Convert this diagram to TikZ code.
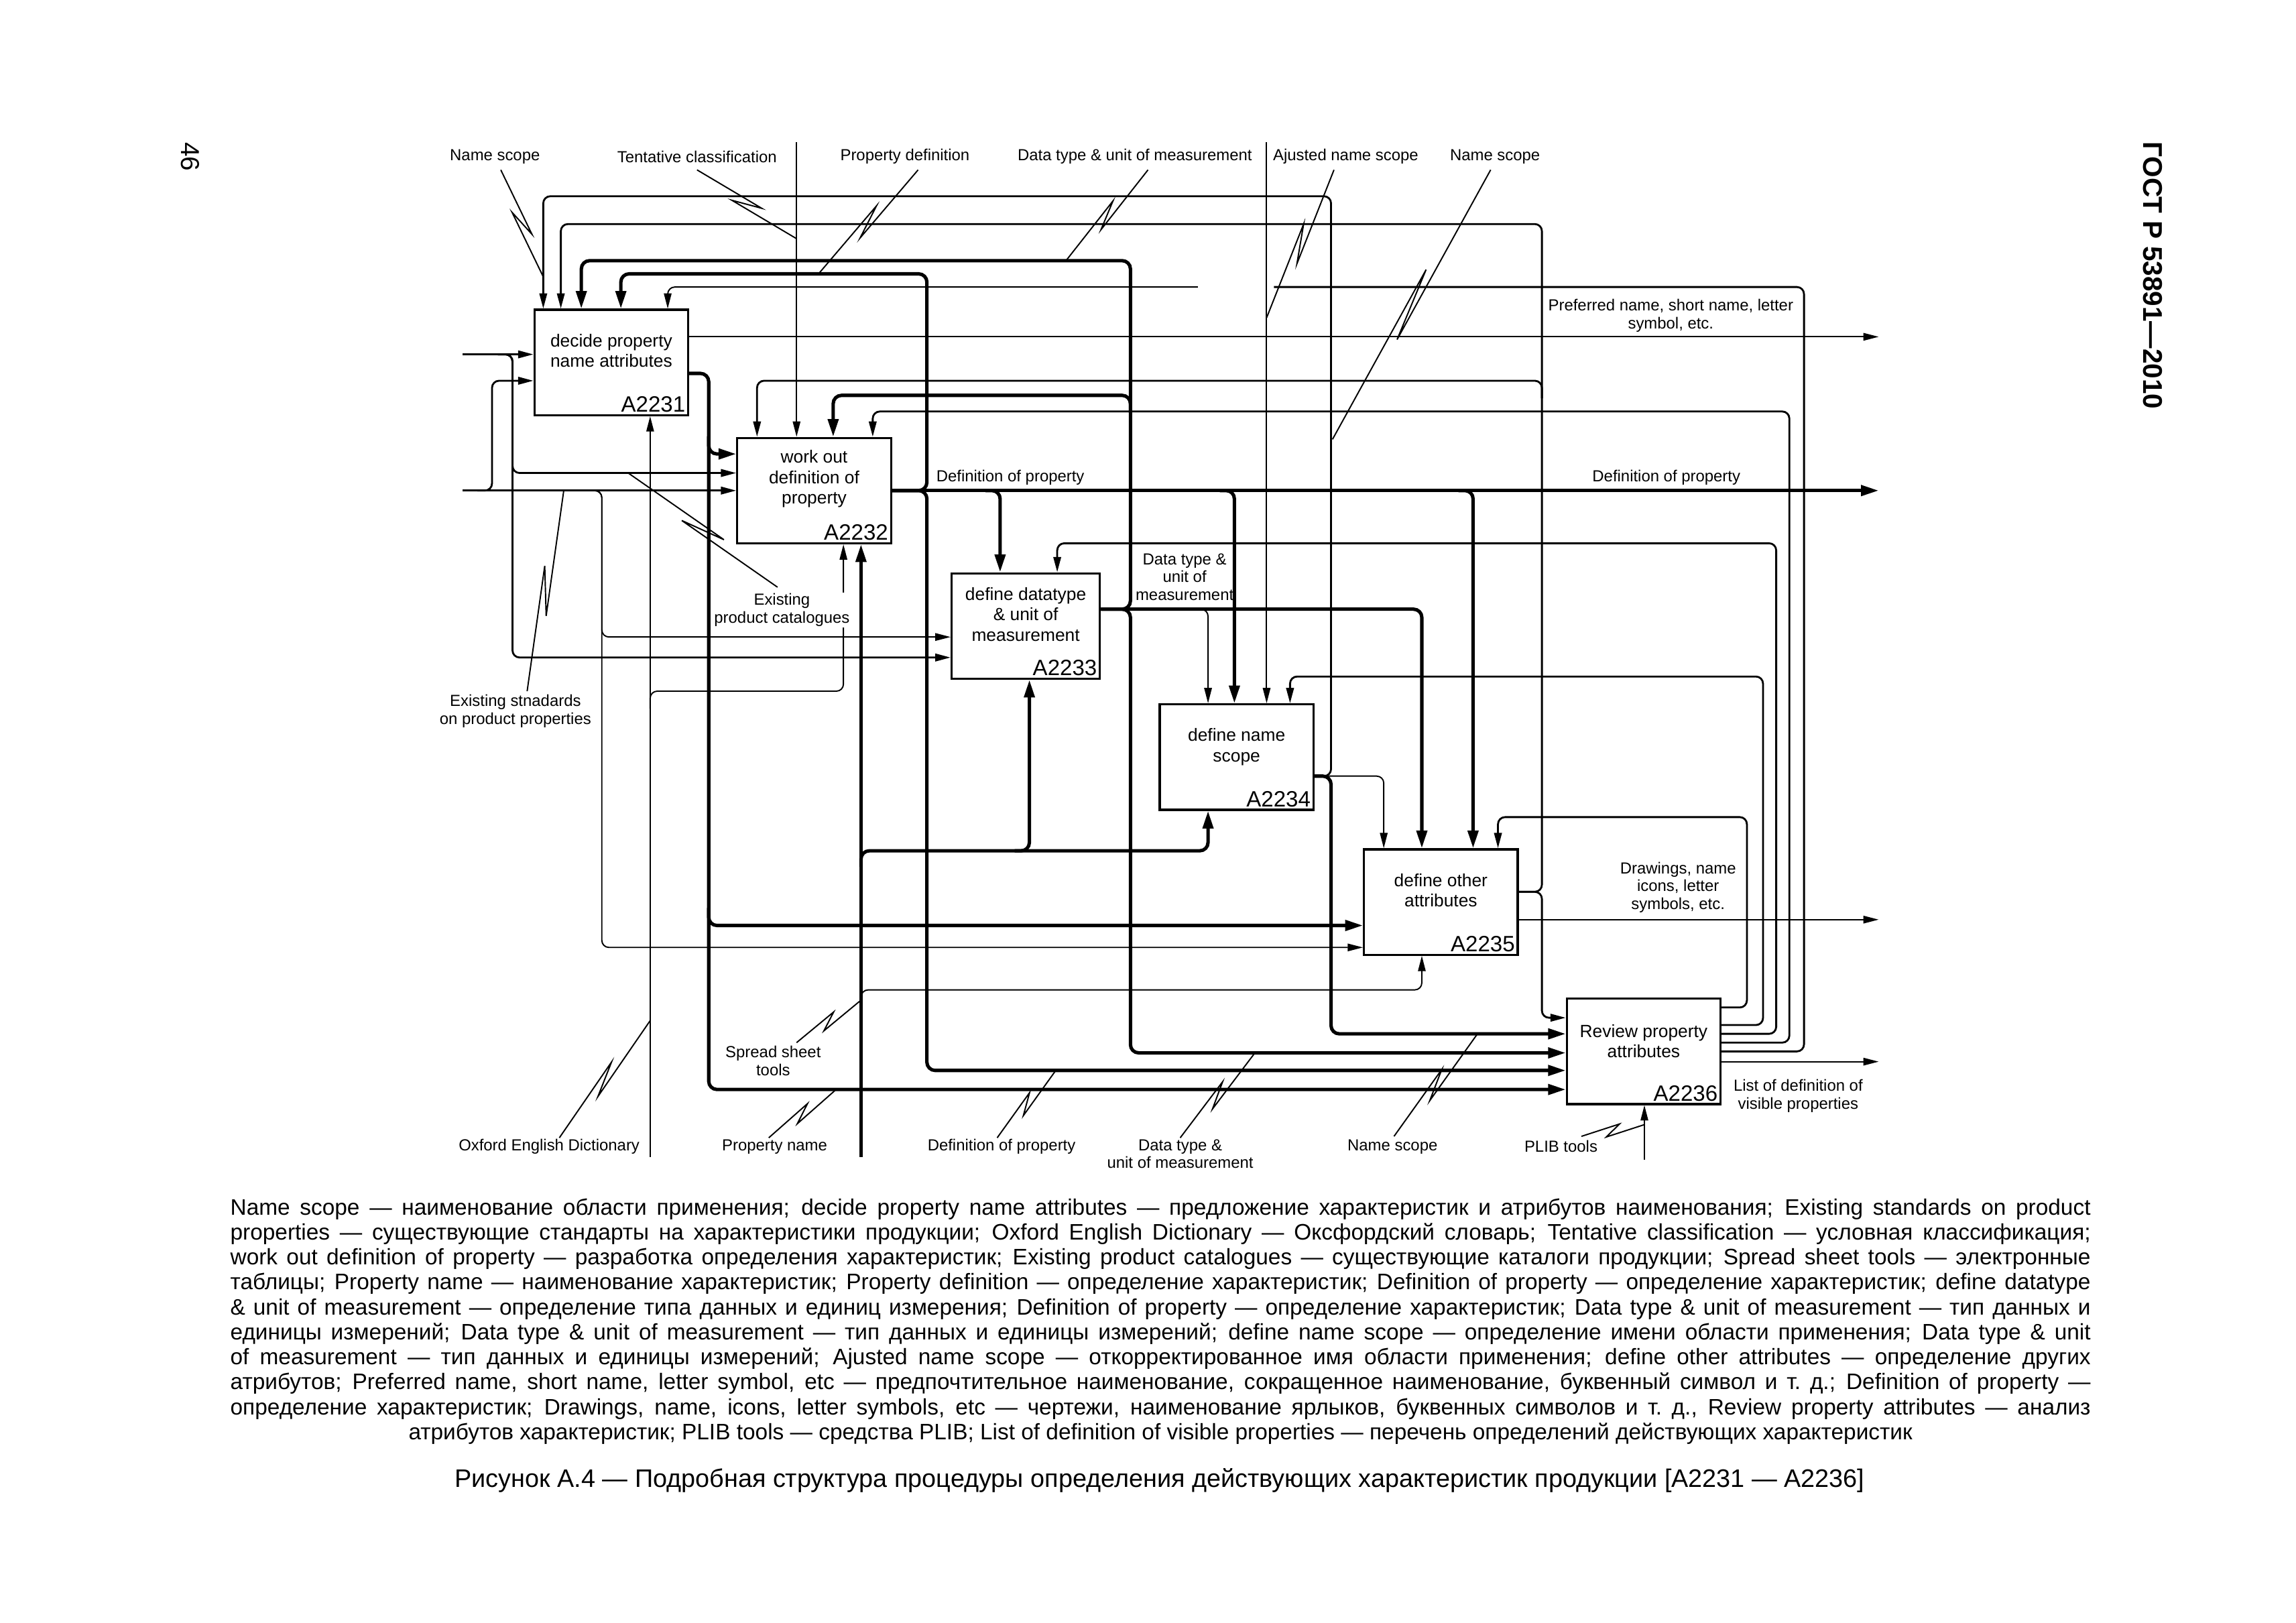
\documentclass[tikz,border=0pt]{standalone}
\usepackage{fontspec}
\setmainfont{Liberation Sans}
\usetikzlibrary{arrows.meta, calc}

% leader line with an IDEF0 squiggle
\newcommand{\squig}[2]{%
  \draw[line width=0.55pt] (#1) -- ($(#1)!0.62!(#2)!2.2pt!90:(#2)$) -- ($(#1)!0.38!(#2)!2.2pt!-90:(#2)$) -- (#2);}

\begin{document}
\begin{tikzpicture}[x=0.02184cm, y=-0.02184cm,
  fbox/.style={draw, line width=0.9pt, fill=white, minimum width=2.293cm, minimum height=1.572cm, inner sep=0pt},
  ftext/.style={font=\fontsize{7.5}{8.7}\selectfont, align=center, inner sep=0pt},
  fnum/.style={font=\fontsize{9.4}{10}\selectfont, anchor=south east, inner sep=1.5pt},
  lbl/.style={font=\fontsize{6.8}{7.6}\selectfont, align=center, inner sep=0.5pt},
  thin/.style={line width=0.55pt, rounded corners=3pt},
  med/.style={line width=0.8pt, rounded corners=3pt},
  thk/.style={line width=1.45pt, rounded corners=3.5pt},
  arr/.style={-{Triangle[length=6.5pt, width=3.2pt]}},
  tarr/.style={-{Triangle[length=7.5pt, width=4.4pt]}},
]
  \fill[white] (0,0) rectangle (1568,1108);
  \useasboundingbox (0,0) rectangle (1568,1108);

  % page header
  \node[font=\fontsize{11}{13}\selectfont, rotate=-90] (page) at (130,107) {46};
  \node[font=\bfseries\fontsize{11.5}{13}\selectfont, rotate=-90] (std) at (1470,188) {ГОСТ Р 53891—2010};

  % activity boxes
  \node[fbox] (b1) at (417.5,247.5) {};
  \node[fbox] (b2) at (556,335) {};
  \node[fbox, minimum width=2.21cm] (b3) at (700.5,427.5) {};
  \node[fbox] (b4) at (844.5,517) {};
  \node[fbox] (b5) at (984,616) {};
  \node[fbox] (b6) at (1122.5,718) {};

  % outputs of A2234
  \draw[med, arr] (b4.east |- 0,530) -- (909,530) -- (909,134) -- (371,134) -- (371,0 |- b1.north);
  \draw[thk, tarr] (b4.east |- 0,530) -- (909,530) -- (909,706) -- (b6.west |- 0,706);
  \draw[thin, arr] (903,530) -- (945,530) -- (945,0 |- b5.north);

  % outputs of A2235
  \draw[med, arr] (b5.east |- 0,609) -- (1053,609) -- (1053,153) -- (383,153) -- (383,0 |- b1.north);
  \draw[med, arr] (b5.east |- 0,609) -- (1053,609) -- (1053,695) -- (b6.west |- 0,695);
  \draw[med, arr] (1053,272) -- (1053,260) -- (517,260) -- (517,0 |- b2.north);
  \draw[thin, arr] (b5.east |- 0,628) -- (1283,628);

  % outputs of A2233
  \draw[thk, tarr] (b3.east |- 0,416) -- (772,416) -- (772,178) -- (397,178) -- (397,0 |- b1.north);
  \draw[thk, tarr] (b3.east |- 0,416) -- (772,416) -- (772,719) -- (b6.west |- 0,719);
  \draw[thk, tarr] (772,282) -- (772,270) -- (569,270) -- (569,0 |- b2.north);
  \draw[thk, tarr] (b3.east |- 0,416) -- (971,416) -- (971,0 |- b5.north);
  \draw[thin, arr] (812,416) -- (825,416) -- (825,0 |- b4.north);

  % outputs of A2232
  \draw[thk, tarr] (b2.east |- 0,335) -- (1283,335);
  \draw[thk, tarr] (b2.east |- 0,335) -- (633,335) -- (633,187) -- (424,187) -- (424,0 |- b1.north);
  \draw[thk, tarr] (b2.east |- 0,335) -- (633,335) -- (633,731) -- (b6.west |- 0,731);
  \draw[thk, tarr] (673,335) -- (683,335) -- (683,0 |- b3.north);
  \draw[thk, tarr] (833,335) -- (843,335) -- (843,0 |- b4.north);
  \draw[thk, tarr] (996,335) -- (1006,335) -- (1006,0 |- b5.north);

  % outputs of A2231
  \draw[thin, arr] (b1.east |- 0,230) -- (1283,230);
  \draw[thk, tarr] (b1.east |- 0,255) -- (484,255) -- (484,744) -- (b6.west |- 0,744);
  \draw[thk, tarr] (484,298) -- (484,310) -- (b2.west |- 0,310);
  \draw[thk, tarr] (484,620) -- (484,632) -- (b5.west |- 0,632);

  % outputs of A2236
  \draw[med, arr] (b6.east |- 0,688) -- (1193,688) -- (1193,558) -- (1023,558) -- (1023,0 |- b5.north);
  \draw[med, arr] (b6.east |- 0,700) -- (1204,700) -- (1204,462) -- (881,462) -- (881,0 |- b4.north);
  \draw[med, arr] (b6.east |- 0,706) -- (1213,706) -- (1213,371) -- (722,371) -- (722,0 |- b3.north);
  \draw[med, arr] (b6.east |- 0,712) -- (1222,712) -- (1222,281) -- (596,281) -- (596,0 |- b2.north);
  \coordinate (cut2) at (870,196);
  \draw[med] (b6.east |- 0,718) -- (1232,718) -- (1232,196) -- (cut2);
  \draw[thin, arr] (b6.east |- 0,725) -- (1283,725);

  % external controls
  \coordinate (cut1) at (818,196);
  \draw[thin, arr] (cut1) -- (456,196) -- (456,0 |- b1.north);
  \coordinate (top1) at (544,97);
  \draw[thin, arr] (top1) -- (544,0 |- b2.north);
  \coordinate (top2) at (865,97);
  \draw[thin, arr] (top2) -- (865,0 |- b4.north);

  % external inputs
  \coordinate (in1) at (316,242);
  \draw[med, arr] (in1) -- (b1.west |- in1);
  \draw[med, arr] (340,242) -- (350,242) -- (350,323) -- (b2.west |- 0,323);
  \draw[med, arr] (340,242) -- (350,242) -- (350,449) -- (b3.west |- 0,449);
  \coordinate (in2) at (316,335);
  \draw[med, arr] (in2) -- (b2.west |- in2);
  \draw[med, arr] (326,335) -- (336,335) -- (336,260) -- (b1.west |- 0,260);
  \draw[thin, arr] (401,335) -- (411,335) -- (411,435) -- (b3.west |- 0,435);
  \draw[thin, arr] (401,335) -- (411,335) -- (411,647) -- (b5.west |- 0,647);

  % mechanisms
  \coordinate (bot1) at (444,790);
  \draw[thin, arr] (bot1) -- (444,0 |- b1.south);
  \draw[thin, arr] (444,484) -- (444,472) -- (576,472) -- (576,0 |- b2.south);
  \coordinate (bot2) at (588,790);
  \draw[thk, tarr] (bot2) -- (588,0 |- b2.south);
  \draw[thk, tarr] (588,592) -- (588,581) -- (825,581) -- (825,0 |- b4.south);
  \draw[thk, tarr] (693,581) -- (703,581) -- (703,0 |- b3.south);
  \draw[thin, arr] (588,688) -- (588,676) -- (971,676) -- (971,0 |- b5.south);
  \coordinate (bot3) at (1123,792);
  \draw[thin, arr] (bot3) -- (1123,0 |- b6.south);

  % box texts
  \node[ftext] (t1) at ($(b1.center)+(0,-8)$) {decide property\\name attributes};
  \node[ftext] (t2) at ($(b2.center)+(0,-8)$) {work out\\definition of\\property};
  \node[ftext] (t3) at ($(b3.center)+(0,-8)$) {define datatype\\\& unit of\\measurement};
  \node[ftext] (t4) at ($(b4.center)+(0,-7)$) {define name\\scope};
  \node[ftext] (t5) at ($(b5.center)+(0,-8)$) {define other\\attributes};
  \node[ftext] (t6) at ($(b6.center)+(0,-7)$) {Review property\\attributes};
  \node[fnum] (n1) at (b1.south east) {A2231};
  \node[fnum] (n2) at (b2.south east) {A2232};
  \node[fnum] (n3) at (b3.south east) {A2233};
  \node[fnum] (n4) at (b4.south east) {A2234};
  \node[fnum] (n5) at (b5.south east) {A2235};
  \node[fnum] (n6) at (b6.south east) {A2236};

  % arrow labels
  \node[lbl] (lNs1) at (338,107) {Name scope};
  \node[lbl] (lTc) at (476,107) {Tentative classification};
  \node[lbl] (lPd) at (618,107) {Property definition};
  \node[lbl] (lDt1) at (775,107) {Data type \& unit of measurement};
  \node[lbl] (lAns) at (919,107) {Ajusted name scope};
  \node[lbl] (lNs2) at (1021,107) {Name scope};
  \node[lbl] (lEs) at (352,485.5) {Existing stnadards\\on product properties};
  \node[lbl, fill=white] (lEc) at (534,416.5) {Existing\\product catalogues};
  \node[lbl] (lDp1) at (690,326) {Definition of property};
  \node[lbl] (lDp2) at (1138,326) {Definition of property};
  \node[lbl] (lDt2) at (809,394) {Data type \&\\unit of\\measurement};
  \node[lbl] (lPn) at (1141,215.5) {Preferred name, short name, letter\\symbol, etc.};
  \node[lbl] (lDr) at (1146,606) {Drawings, name\\icons, letter\\symbols, etc.};
  \node[lbl] (lLd) at (1228,748.5) {List of definition of\\visible properties};
  \node[lbl] (lSs) at (528,724.5) {Spread sheet\\tools};
  \node[lbl] (lOx) at (375,783) {Oxford English Dictionary};
  \node[lbl] (lPn2) at (529,783) {Property name};
  \node[lbl] (lDp3) at (684,783) {Definition of property};
  \node[lbl] (lDt3) at (806,788) {Data type \&\\unit of measurement};
  \node[lbl] (lNs3) at (951,783) {Name scope};
  \node[lbl] (lPl) at (1066,783) {PLIB tools};

  % leaders
  \squig{342,116}{371,189}
  \squig{476,116}{544,163}
  \squig{627,116}{559,187}
  \squig{784,116}{728,178}
  \squig{911,116}{865,217}
  \squig{1018,116}{910,300}
  \squig{360,472}{385,335}
  \squig{531,401}{429,323}
  \squig{382,777}{444,697}
  \squig{525,777}{571,744}
  \squig{681,777}{721,731}
  \squig{806,777}{857,719}
  \squig{952,776}{1009,706}
  \squig{1080,776}{1123,768}
  \squig{544,712}{588,683}

  % legend and caption
  \node[font=\fontsize{9.5}{10.6}\selectfont, text width=27.74cm, align=justify, anchor=north west, inner sep=0pt] (legend) at (157,818) {%
Name scope — наименование области применения; decide property name attributes — предложение характеристик и атрибутов наименования; Existing standards on product\linebreak
properties — существующие стандарты на характеристики продукции; Oxford English Dictionary — Оксфордский словарь; Tentative classification — условная классификация;\linebreak
work out definition of property — разработка определения характеристик; Existing product catalogues — существующие каталоги продукции; Spread sheet tools — электронные\linebreak
таблицы; Property name — наименование характеристик; Property definition — определение характеристик; Definition of property — определение характеристик; define datatype\linebreak
\& unit of measurement — определение типа данных и единиц измерения; Definition of property — определение характеристик; Data type \& unit of measurement — тип данных и\linebreak
единицы измерений; Data type \& unit of measurement — тип данных и единицы измерений; define name scope — определение имени области применения; Data type \& unit\linebreak
of measurement — тип данных и единицы измерений; Ajusted name scope — откорректированное имя области применения; define other attributes — определение других\linebreak
атрибутов; Preferred name, short name, letter symbol, etc — предпочтительное наименование, сокращенное наименование, буквенный символ и т.~д.; Definition of property —\linebreak
определение характеристик; Drawings, name, icons, letter symbols, etc — чертежи, наименование ярлыков, буквенных символов и т.~д., Review property attributes — анализ\parfillskip=0pt\par
\centering атрибутов характеристик; PLIB tools — средства PLIB; List of definition of visible properties — перечень определений действующих характеристик\par};
  \node[font=\fontsize{10.75}{12}\selectfont] (title) at (792,1011) {Рисунок А.4 — Подробная структура процедуры определения действующих характеристик продукции [А2231 — А2236]};
\end{tikzpicture}
\end{document}
